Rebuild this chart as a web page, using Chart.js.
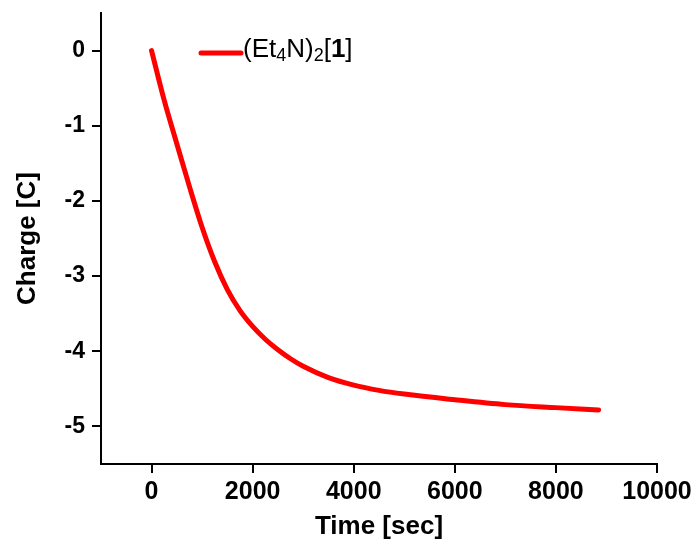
<!DOCTYPE html>
<html>
<head>
<meta charset="utf-8">
<script src="https://cdn.jsdelivr.net/npm/chart.js@4"></script>
<style>
  html, body { margin: 0; padding: 0; background: #fff; }
</style>
</head>
<body>
<canvas id="chargeChart" width="698" height="546"></canvas>
<script>
// data
var timeSec = [0, 250, 500, 750, 1000, 1250, 1500, 1750, 2000, 2250, 2500, 2750, 3000, 3500, 4000, 4500, 5000, 6000, 7000, 8000, 8845];
var charge = [0, -0.66, -1.24, -1.81, -2.35, -2.81, -3.18, -3.46, -3.67, -3.84, -3.98, -4.1, -4.2, -4.35, -4.45, -4.52, -4.57, -4.645, -4.71, -4.75, -4.78];
var xTicks = [0, 2000, 4000, 6000, 8000, 10000];
var yTicks = [0, -1, -2, -3, -4, -5];

var fontName = '"Liberation Sans", Arial, sans-serif';

var points = timeSec.map(function (t, i) {
  return { x: t, y: charge[i] };
});

// legend with subscripts: (Et4N)2[1]
var legendPlugin = {
  id: 'subLegend',
  afterDraw: function (chart) {
    var ctx = chart.ctx;
    var area = chart.chartArea;
    var x0 = area.left + 98;
    var y0 = area.top + 40;
    ctx.save();
    ctx.strokeStyle = '#ff0000';
    ctx.lineWidth = 5;
    ctx.lineCap = 'round';
    ctx.beginPath();
    ctx.moveTo(x0 + 2, y0);
    ctx.lineTo(x0 + 42, y0);
    ctx.stroke();

    var parts = [
      { t: '(Et', f: 'normal 26px ' + fontName, dy: 0 },
      { t: '4', f: 'normal 18px ' + fontName, dy: 4 },
      { t: 'N)', f: 'normal 26px ' + fontName, dy: 0 },
      { t: '2', f: 'normal 18px ' + fontName, dy: 4 },
      { t: '[', f: 'normal 26px ' + fontName, dy: 0 },
      { t: '1', f: 'bold 26px ' + fontName, dy: 0 },
      { t: ']', f: 'normal 26px ' + fontName, dy: 0 }
    ];
    var x = x0 + 44;
    var base = y0 + 4;
    ctx.fillStyle = '#000';
    ctx.textBaseline = 'alphabetic';
    ctx.textAlign = 'left';
    parts.forEach(function (p) {
      ctx.font = p.f;
      ctx.fillText(p.t, x, base + p.dy);
      x += ctx.measureText(p.t).width;
    });
    ctx.restore();
  }
};

function plainLabel(value) {
  return String(value);
}

var ctx = document.getElementById('chargeChart').getContext('2d');
var chargeChart = new Chart(ctx, {
  type: 'line',
  data: {
    datasets: [{
      label: '(Et4N)2[1]',
      data: points,
      borderColor: '#ff0000',
      borderWidth: 5,
      borderCapStyle: 'round',
      pointRadius: 0,
      fill: false,
      cubicInterpolationMode: 'monotone'
    }]
  },
  options: {
    responsive: false,
    animation: false,
    layout: { padding: { left: 0, right: 41, top: 13, bottom: 0 } },
    plugins: {
      legend: { display: false },
      tooltip: { enabled: false }
    },
    scales: {
      x: {
        type: 'linear',
        min: -1000,
        max: 10000,
        afterBuildTicks: function (axis) {
          axis.ticks = xTicks.map(function (v) { return { value: v }; });
        },
        afterFit: function (axis) {
          axis.height = 82;
          axis.paddingLeft = 0;
          axis.paddingRight = 0;
        },
        grid: { display: true, drawOnChartArea: false, drawTicks: true, tickLength: 9, color: '#000', lineWidth: 2 },
        border: { display: true, color: '#000', width: 2 },
        ticks: {
          color: '#000',
          padding: 4,
          maxRotation: 0,
          callback: plainLabel,
          font: { family: fontName, size: 25, weight: 'bold' }
        },
        title: {
          display: true,
          text: 'Time [sec]',
          color: '#000',
          padding: { top: 4, bottom: 4 },
          font: { family: fontName, size: 26, weight: 'bold' }
        }
      },
      y: {
        type: 'linear',
        min: -5.5,
        max: 0.5,
        afterBuildTicks: function (axis) {
          axis.ticks = yTicks.map(function (v) { return { value: v }; });
        },
        afterFit: function (axis) {
          axis.width = 101;
          axis.paddingTop = 0;
          axis.paddingBottom = 0;
        },
        grid: { display: true, drawOnChartArea: false, drawTicks: true, tickLength: 9, color: '#000', lineWidth: 2 },
        border: { display: true, color: '#000', width: 2 },
        ticks: {
          color: '#000',
          padding: 7,
          callback: plainLabel,
          font: { family: fontName, size: 23, weight: 'bold' }
        },
        title: {
          display: true,
          text: 'Charge [C]',
          color: '#000',
          padding: { top: 12, bottom: 12 },
          font: { family: fontName, size: 26, weight: 'bold' }
        }
      }
    }
  },
  plugins: [legendPlugin]
});
</script>
</body>
</html>
